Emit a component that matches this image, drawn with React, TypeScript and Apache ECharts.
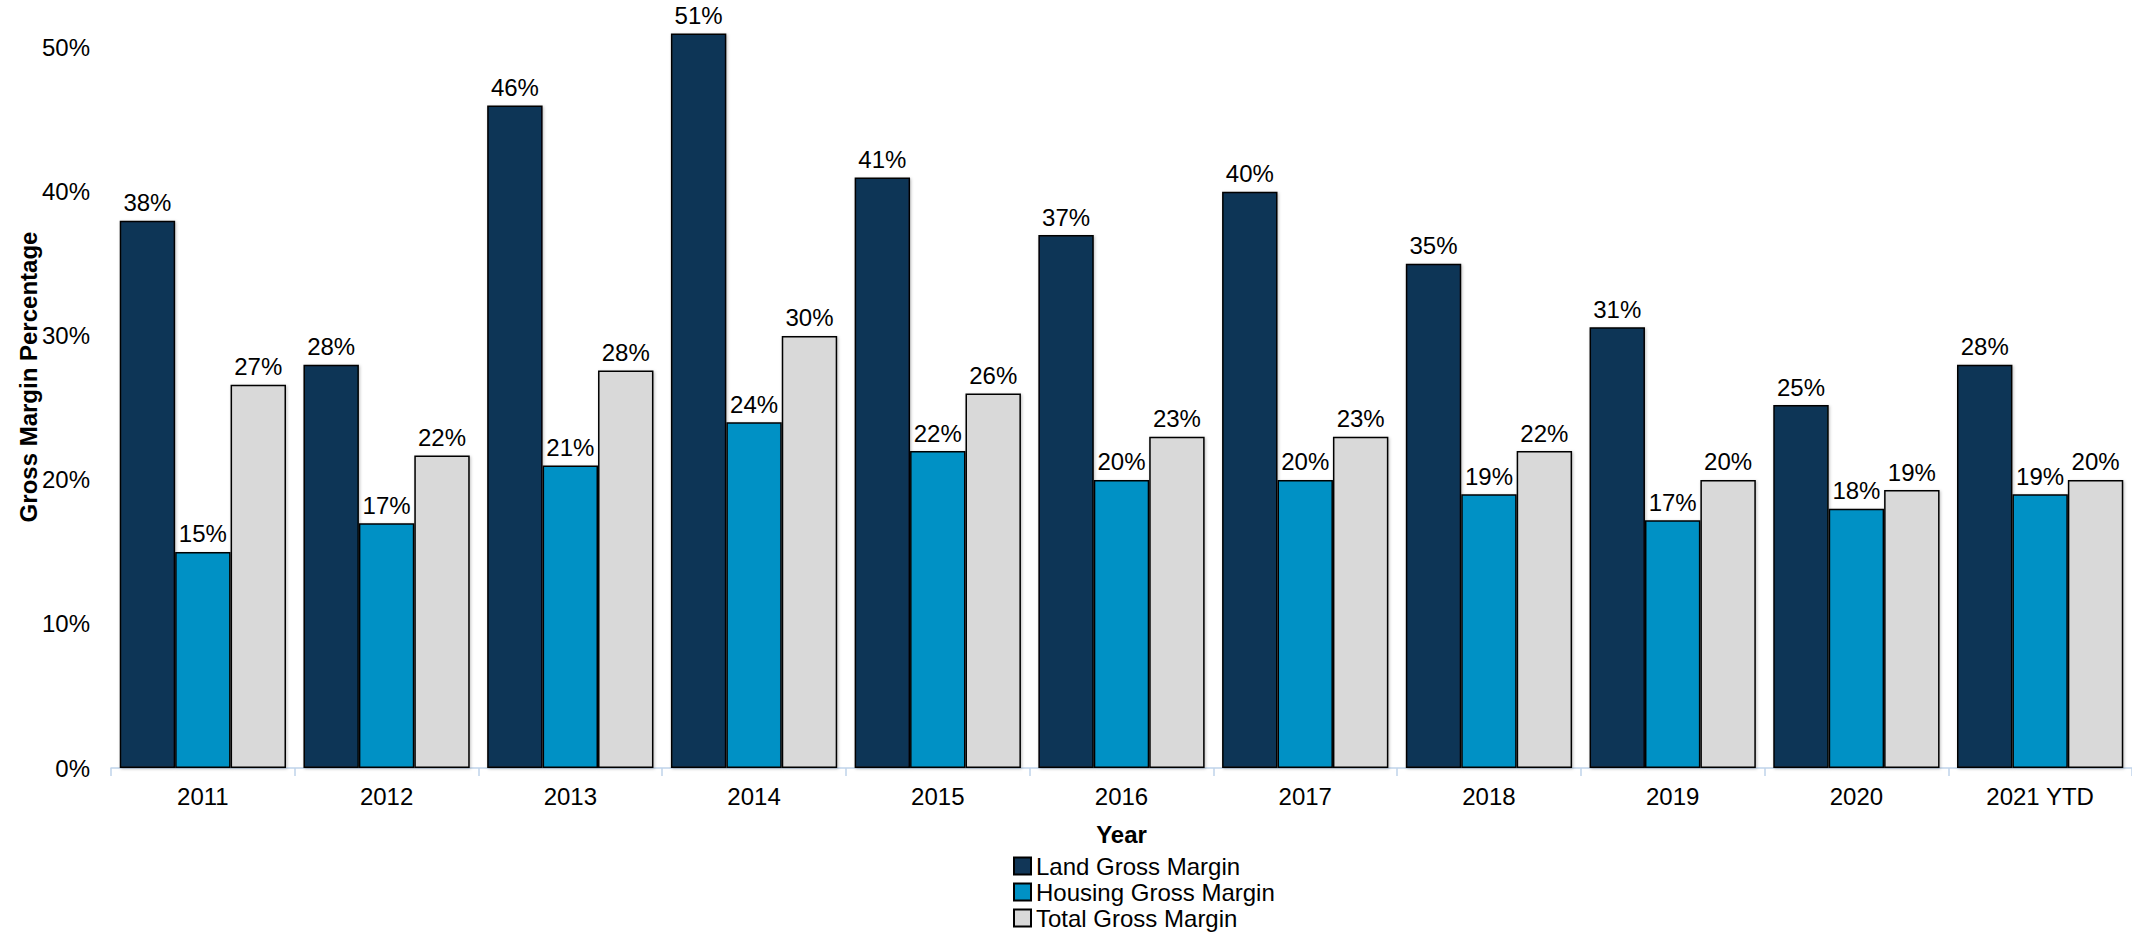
import React, { useEffect, useRef } from "react";
import * as echarts from "echarts";

const categories = ["2011", "2012", "2013", "2014", "2015", "2016", "2017", "2018", "2019", "2020", "2021 YTD"];
const landMargin = [0.38, 0.28, 0.46, 0.51, 0.41, 0.37, 0.40, 0.35, 0.306, 0.252, 0.28];
const housingMargin = [0.15, 0.17, 0.21, 0.24, 0.22, 0.20, 0.20, 0.19, 0.172, 0.18, 0.19];
const totalMargin = [0.266, 0.217, 0.276, 0.30, 0.26, 0.23, 0.23, 0.22, 0.20, 0.193, 0.20];
const seriesNames = ["Land Gross Margin", "Housing Gross Margin", "Total Gross Margin"];
const yTicks = [0, 0.1, 0.2, 0.3, 0.4, 0.5];

const FONT = "'Liberation Sans', Arial, sans-serif";
const FS = 24;

export default function App() {
  const ref = useRef<HTMLDivElement>(null);
  useEffect(() => {
    if (!ref.current) return;
    const chart = echarts.init(ref.current, null, { renderer: "svg" });
    const colors = ["#113657", "#0091C5", "#D9D9D9"];
    const datasets = [landMargin, housingMargin, totalMargin];
    const pct = (v: number) => Math.round(v * 100) + "%";
    chart.setOption({
      animation: false,
      backgroundColor: "#ffffff",
      textStyle: { fontFamily: FONT },
      grid: { left: 111, right: -2, top: 19, bottom: 166, containLabel: false },
      legend: {
        orient: "vertical",
        left: 1013,
        top: 854,
        padding: 0,
        itemWidth: 17,
        itemHeight: 17,
        itemGap: 2,
        icon: "rect",
        textStyle: { fontSize: FS, color: "#000", fontFamily: FONT, lineHeight: 24 },
        data: seriesNames,
      },
      xAxis: {
        type: "category",
        data: categories,
        name: "Year",
        nameLocation: "middle",
        nameGap: 54,
        nameTextStyle: { fontSize: FS, fontWeight: "bold", color: "#000", fontFamily: FONT },
        axisLine: { show: true, lineStyle: { color: "#BFD3EA", width: 1.5 } },
        axisTick: { show: true, length: 8, lineStyle: { color: "#BFD3EA", width: 1.5 } },
        axisLabel: { fontSize: FS, color: "#000", margin: 16, fontFamily: FONT },
      },
      yAxis: {
        type: "value",
        min: 0,
        max: 0.52,
        interval: 0.1,
        axisLine: { show: false },
        axisTick: { show: false },
        splitLine: { show: false },
        axisLabel: {
          fontSize: FS,
          color: "#000",
          margin: 21,
          fontFamily: FONT,
          showMaxLabel: false,
          formatter: (v: number) => {
            const t = yTicks.find((x) => Math.abs(x - v) < 1e-6);
            return t === undefined ? "" : pct(t);
          },
        },
      },
      graphic: [
        {
          type: "text",
          x: 28,
          y: 377,
          rotation: Math.PI / 2,
          style: {
            text: "Gross Margin Percentage",
            fontSize: 24,
            fontWeight: "bold",
            fontFamily: FONT,
            fill: "#000",
            align: "center",
            verticalAlign: "middle",
          },
        },
      ],
      series: datasets.map((d, i) => ({
        name: seriesNames[i],
        type: "bar",
        data: d,
        barGap: "0%",
        barCategoryGap: "9.5%",
        itemStyle: {
          color: colors[i],
          borderColor: "#000",
          borderWidth: 1.5,
          shadowColor: "rgba(0,0,0,0.25)",
          shadowBlur: 3,
          shadowOffsetX: 1,
          shadowOffsetY: 1,
        },
        label: {
          show: true,
          position: "top",
          distance: 6,
          fontSize: FS,
          color: "#000",
          fontFamily: FONT,
          formatter: (p: any) => pct(p.value),
        },
      })),
    });
    return () => chart.dispose();
  }, []);
  return (
    <div
      ref={ref}
      style={{ position: "absolute", left: 0, top: 0, width: 2132, height: 934 }}
    />
  );
}
